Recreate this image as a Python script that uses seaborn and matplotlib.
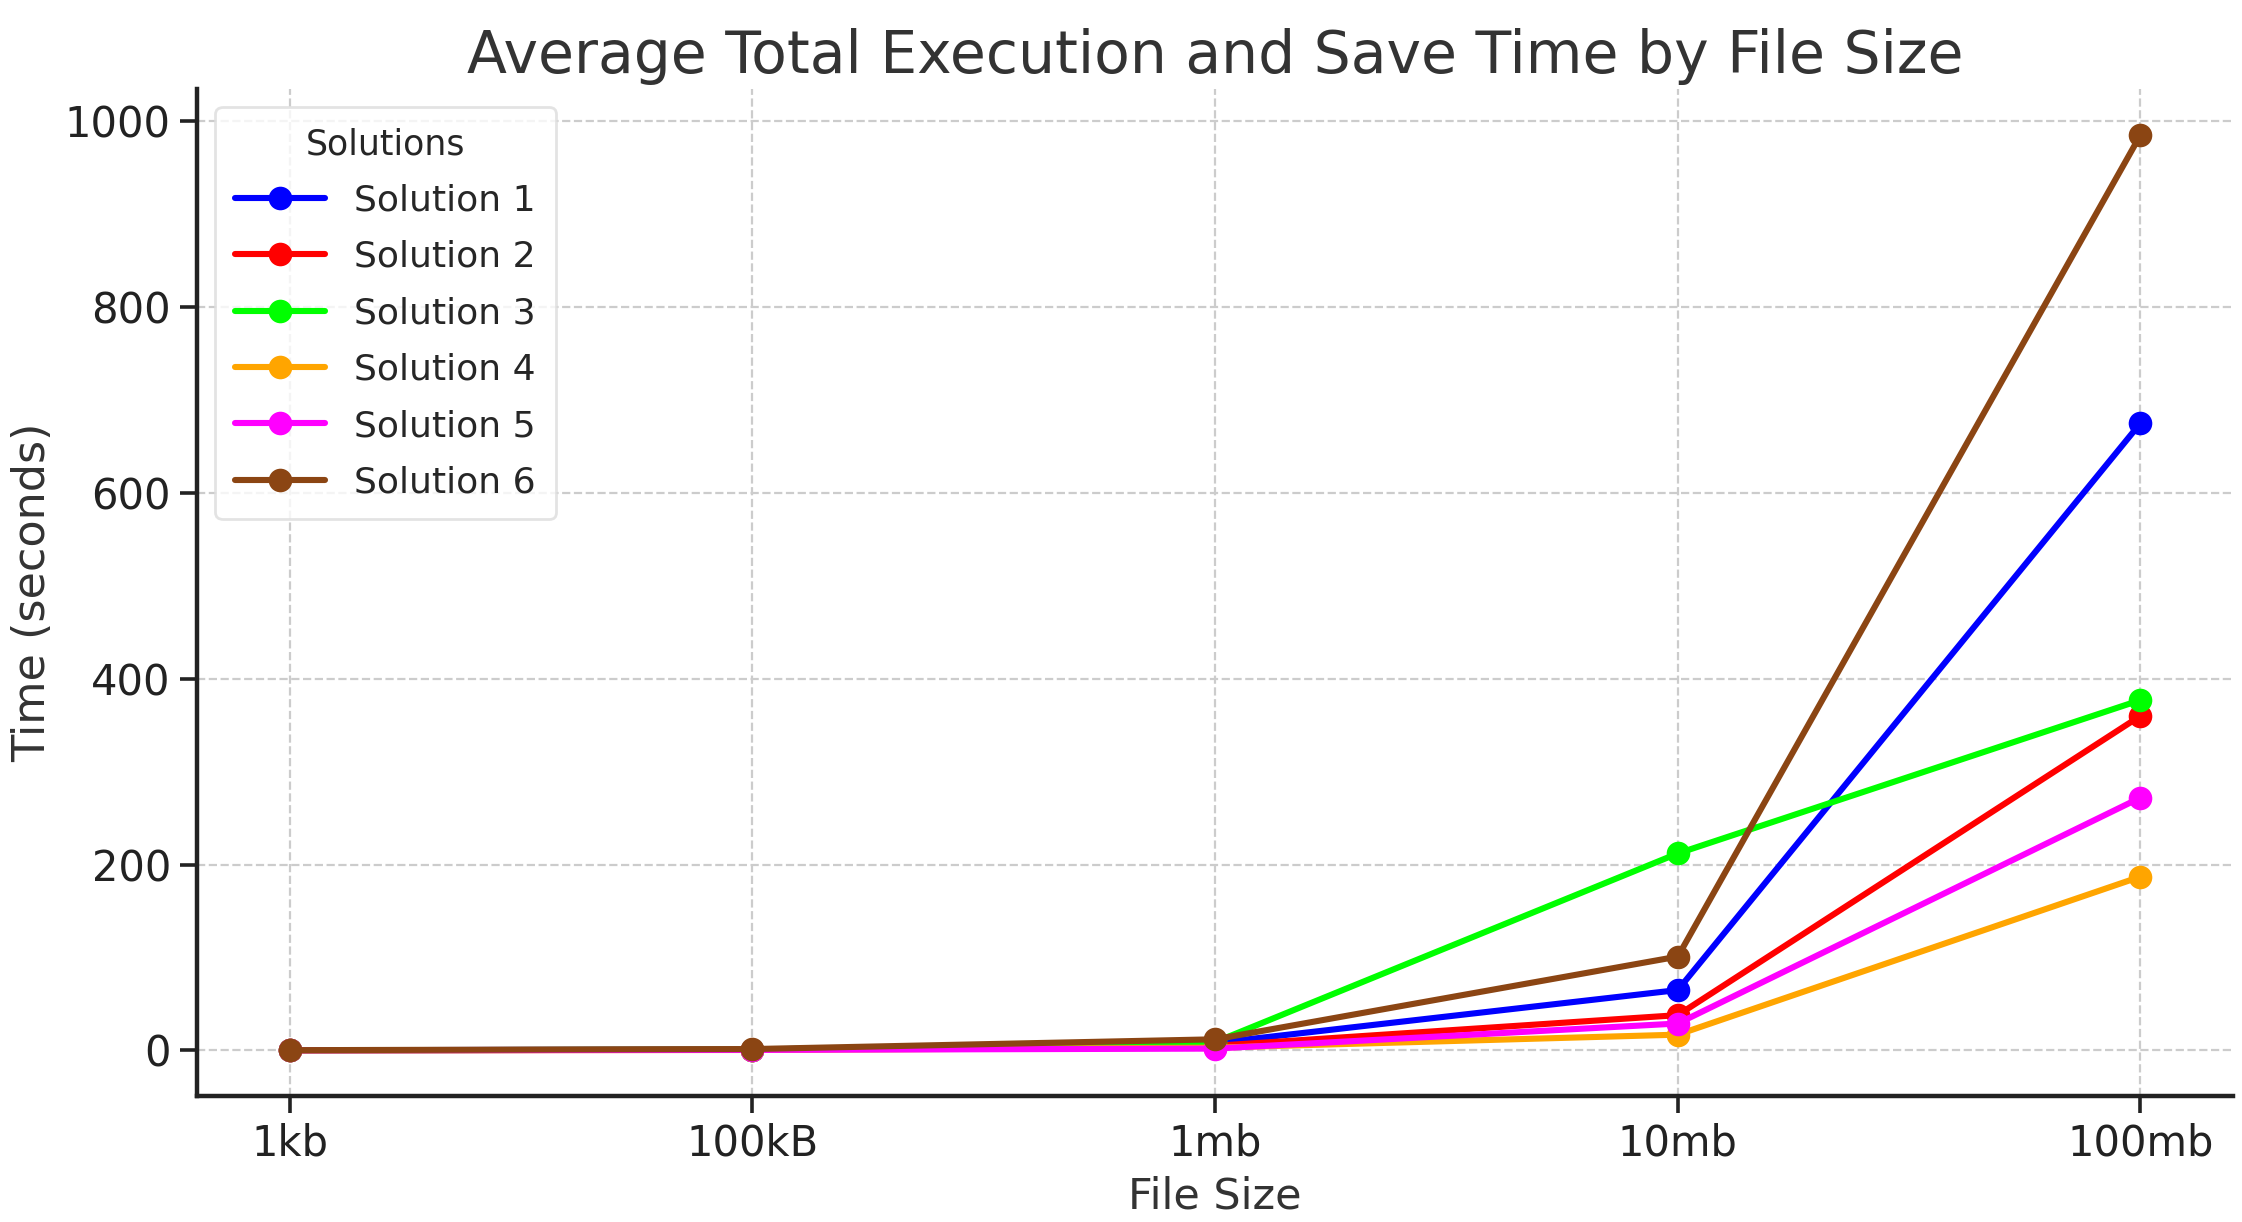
import pandas as pd
import seaborn as sns
import matplotlib.pyplot as plt

# values (seconds)
file_sizes = ['1kb', '100kB', '1mb', '10mb', '100mb']
solution_1 = [0.2, 1.0, 8, 65, 675]
solution_2 = [0.2, 0.8, 5, 38, 360]
solution_3 = [0.1, 0.9, 9, 212, 377]
solution_4 = [0.1, 0.5, 3, 17, 187]
solution_5 = [0.1, 0.6, 2, 29, 272]
solution_6 = [0.3, 1.5, 12, 101, 985]

series = {
    'Solution 1': solution_1,
    'Solution 2': solution_2,
    'Solution 3': solution_3,
    'Solution 4': solution_4,
    'Solution 5': solution_5,
    'Solution 6': solution_6,
}
colors = ['blue', 'red', 'lime', 'orange', 'magenta', 'saddlebrown']

rows = []
for name, vals in series.items():
    for size, v in zip(file_sizes, vals):
        rows.append({'File Size': size, 'Time': v, 'Solution': name})
df = pd.DataFrame(rows)

sns.set_theme(style='ticks')
plt.rcParams['font.family'] = ['DejaVu Sans']

fig = plt.figure(figsize=(11.21, 6.11), dpi=200)
ax = fig.add_axes([0.088, 0.103, 0.908, 0.824])

sns.lineplot(data=df, x='File Size', y='Time', hue='Solution', palette=colors,
             marker='o', markersize=8.5, markeredgewidth=0, linewidth=2.2, ax=ax)

ax.set_title('Average Total Execution and Save Time by File Size', fontsize=21, color='#333333')
ax.set_xlabel('File Size', fontsize=15.5, color='#333333', labelpad=4)
ax.set_ylabel('Time (seconds)', fontsize=16, color='#333333')
ax.tick_params(labelsize=15, colors='#222222', width=1.3, length=6)
ax.grid(True, linestyle='--', color='#cccccc', linewidth=0.8)
ax.margins(x=0.05, y=0.05)
for s in ['top', 'right']:
    ax.spines[s].set_visible(False)
for s in ['left', 'bottom']:
    ax.spines[s].set_linewidth(1.6)
    ax.spines[s].set_color('#222222')

leg = ax.legend(title='Solutions', loc='upper left', fontsize=13, title_fontsize=12.5,
                frameon=True, borderpad=0.55, labelspacing=0.62, handlelength=2.5)
leg.get_frame().set_edgecolor('#dddddd')

fig.savefig('out.png', dpi=200)
